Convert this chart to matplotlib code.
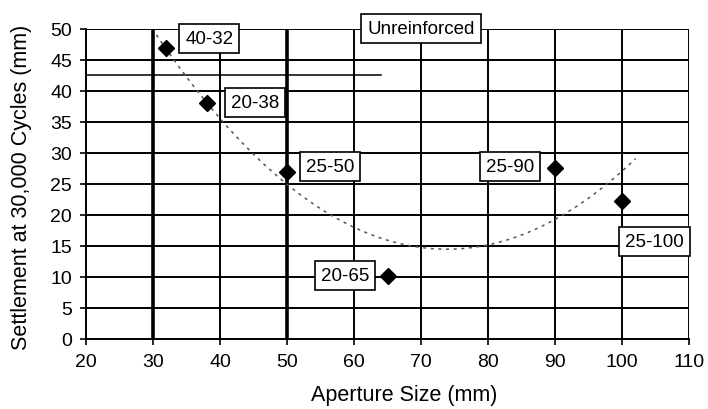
import numpy as np
import matplotlib.pyplot as plt

plt.rcParams['font.family'] = ['Liberation Sans', 'DejaVu Sans']

# Settlement after 30,000 cycles vs geogrid aperture size
aperture = [32, 38, 50, 65, 90, 100]
settlement = [47, 38, 27, 10.2, 27.5, 22.3]
grid_labels = ['40-32', '20-38', '25-50', '20-65', '25-90', '25-100']
label_pos = [(38.4, 48.5), (45.2, 38.2), (56.4, 27.8), (58.6, 10.2), (83.3, 27.8), (104.8, 15.7)]

unreinforced = 42.5
x_ticks = list(range(20, 111, 10))
y_ticks = list(range(0, 51, 5))

box_style = dict(boxstyle='square,pad=0.32', facecolor='white', edgecolor='black', linewidth=1.2)

fig = plt.figure(figsize=(7.08, 4.10), dpi=100)
ax = fig.add_axes([0.1215, 0.171, 0.852, 0.756])

ax.set_xlim(20, 110)
ax.set_ylim(0, 50)
ax.set_xticks(x_ticks)
ax.set_yticks(y_ticks)
ax.grid(True, color='black', linewidth=1.4)
ax.set_axisbelow(True)
for s in ['top', 'right']:
    ax.spines[s].set_visible(False)
for s in ['left', 'bottom']:
    ax.spines[s].set_linewidth(1.4)
ax.tick_params(direction='out', length=4, width=1.2, labelsize=14, pad=6)

# heavier reference lines at 30 and 50 mm
for xv in [30, 50]:
    ax.axvline(xv, color='black', linewidth=2.6, zorder=1)

# unreinforced settlement level
ax.plot([20, 64], [unreinforced, unreinforced], color='black', linewidth=1.1, zorder=1)
ax.text(70, 50, 'Unreinforced', ha='center', va='center', fontsize=13.5,
        bbox=box_style, zorder=5, clip_on=False)

# second order trendline
coef = np.polyfit(aperture, settlement, 2)
xs = np.linspace(30.5, 102, 200)
ax.plot(xs, np.polyval(coef, xs), linestyle=(0, (2, 3)), color='#555555', linewidth=1.1, zorder=2)

ax.plot(aperture, settlement, linestyle='none', marker='D', markersize=8,
        color='black', zorder=4)

for lbl, (lx, ly) in zip(grid_labels, label_pos):
    ax.text(lx, ly, lbl, ha='center', va='center', fontsize=13.5,
            bbox=box_style, zorder=5, clip_on=False)

fig.text(404 / 708, 1 - 396 / 410, 'Aperture Size (mm)', ha='center', va='center', fontsize=15.5)
fig.text(22 / 708, 1 - 187 / 410, 'Settlement at 30,000 Cycles (mm)', ha='center', va='center',
         rotation=90, fontsize=15.5)

fig.savefig('out.png', dpi=100)
